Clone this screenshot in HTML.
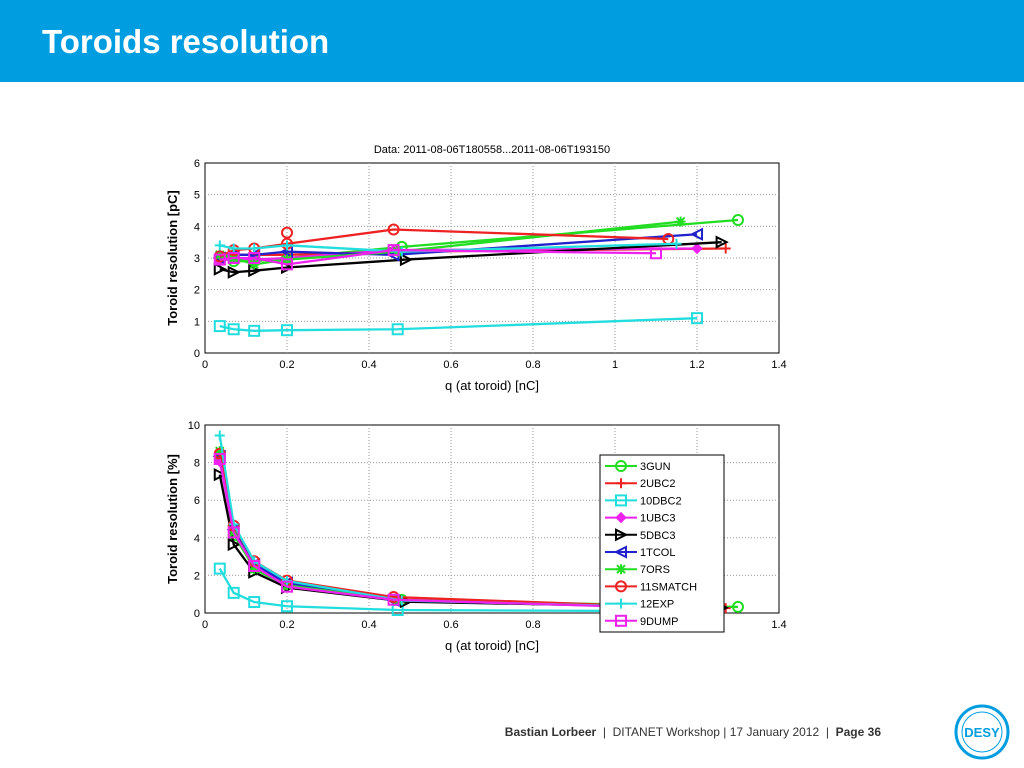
<!DOCTYPE html>
<html><head><meta charset="utf-8">
<style>
body{margin:0;width:1024px;height:768px;background:#fff;position:relative;overflow:hidden;font-family:"Liberation Sans",sans-serif}
#hdr{position:absolute;left:0;top:0;width:1024px;height:82px;background:#009ee0}
#ttl{position:absolute;left:42px;top:23px;color:#fff;font-weight:bold;font-size:33px}
#ft{position:absolute;right:143px;top:725px;font-size:12px;color:#333}
svg{position:absolute;left:0;top:0}
</style></head><body>
<div id="hdr"></div><div id="ttl">Toroids resolution</div>
<div id="ft"><b>Bastian Lorbeer</b> &nbsp;| &nbsp;DITANET Workshop | 17 January 2012 &nbsp;| &nbsp;<b>Page 36</b></div>
<svg id="s" width="1024" height="768" font-family="Liberation Sans, sans-serif"></svg>
<script>
const S=document.getElementById('s');let h='';
const X0=205,X1=779;const sx=q=>X0+q/1.4*(X1-X0);
function axes(top,bot,ymax,ystep,ylabel){
 const sy=v=>bot-v/ymax*(bot-top);
 h+=`<rect x="${X0}" y="${top}" width="${X1-X0}" height="${bot-top}" fill="#fff" stroke="#000" stroke-width="1"/>`;
 for(let i=0;i<=7;i++){const x=sx(i*0.2);if(i>0&&i<7)h+=`<line x1="${x}" y1="${top}" x2="${x}" y2="${bot}" stroke="#999" stroke-dasharray="1,2"/>`;
  h+=`<text x="${x}" y="${bot+15}" font-size="11" text-anchor="middle">${i==0?'0':i==5?'1':(i*0.2).toFixed(1)}</text>`;}
 for(let v=0;v<=ymax;v+=ystep){const y=sy(v);if(v>0&&v<ymax)h+=`<line x1="${X0}" y1="${y}" x2="${X1}" y2="${y}" stroke="#999" stroke-dasharray="1,2"/>`;
  h+=`<text x="${X0-5}" y="${y+4}" font-size="11" text-anchor="end">${v}</text>`;}
 h+=`<text x="${(X0+X1)/2}" y="${bot+37}" font-size="13" text-anchor="middle">q (at toroid) [nC]</text>`;
 h+=`<text transform="translate(${X0-28},${(top+bot)/2}) rotate(-90)" font-size="13" font-weight="bold" text-anchor="middle">${ylabel}</text>`;
 return sy;}
function mk(t,x,y,c){const r=5;
 if(t=='o')return `<circle cx="${x}" cy="${y}" r="${r}" fill="none" stroke="${c}" stroke-width="2"/>`;
 if(t=='s')return `<rect x="${x-r}" y="${y-r}" width="${2*r}" height="${2*r}" fill="none" stroke="${c}" stroke-width="2"/>`;
 if(t=='+')return `<path d="M${x-r} ${y}H${x+r}M${x} ${y-r}V${y+r}" stroke="${c}" stroke-width="2"/>`;
 if(t=='*')return `<path d="M${x-r} ${y}H${x+r}M${x} ${y-r}V${y+r}M${x-4} ${y-4}L${x+4} ${y+4}M${x-4} ${y+4}L${x+4} ${y-4}" stroke="${c}" stroke-width="2"/>`;
 if(t=='d')return `<path d="M${x} ${y-r}L${x+r} ${y}L${x} ${y+r}L${x-r} ${y}Z" fill="${c}" stroke="${c}"/>`;
 if(t=='>')return `<path d="M${x-r} ${y-r}L${x+r} ${y}L${x-r} ${y+r}Z" fill="none" stroke="${c}" stroke-width="2"/>`;
 if(t=='<')return `<path d="M${x+r} ${y-r}L${x-r} ${y}L${x+r} ${y+r}Z" fill="none" stroke="${c}" stroke-width="2"/>`;}
const ser=[
['3GUN','#22dd22','o',[[.036,3],[.07,2.9],[.12,2.9],[.2,3],[.48,3.35],[1.3,4.2]]],
['2UBC2','#ee2222','+',[[.036,3],[.07,3.1],[.12,3.1],[.2,3.1],[.47,3.2],[1.27,3.3]]],
['10DBC2','#22dddd','s',[[.036,.85],[.07,.75],[.12,.7],[.2,.72],[.47,.75],[1.2,1.1]]],
['1UBC3','#ee22ee','d',[[.036,2.9],[.07,3],[.12,2.95],[.2,3],[.46,3.25],[1.2,3.3]]],
['5DBC3','#000000','>',[[.036,2.65],[.07,2.55],[.12,2.6],[.2,2.7],[.49,2.95],[1.26,3.5]]],
['1TCOL','#2222cc','<',[[.036,3],[.07,3.1],[.12,3.1],[.2,3.2],[.46,3.1],[1.2,3.75]]],
['7ORS','#22dd22','*',[[.036,3.1],[.07,3],[.12,2.8],[.2,2.95],[.47,3.2],[1.16,4.15]]],
['11SMATCH','#ee2222','o',[[.036,3.05],[.07,3.25],[.12,3.3],[.2,3.45],[.46,3.9],[1.13,3.6]]],
['12EXP','#22dddd','+',[[.036,3.4],[.07,3.3],[.12,3.3],[.2,3.4],[.48,3.2],[1.15,3.45]]],
['9DUMP','#ee22ee','s',[[.036,2.95],[.07,3],[.12,3],[.2,2.8],[.46,3.25],[1.1,3.15]]]];
h+=`<text x="${(X0+X1)/2}" y="153" font-size="11" text-anchor="middle">Data: 2011-08-06T180558...2011-08-06T193150</text>`;
let sy=axes(163,353,6,1,'Toroid resolution [pC]');
for(const [n,c,m,d] of ser){h+=`<polyline points="${d.map(p=>sx(p[0])+','+sy(p[1])).join(' ')}" fill="none" stroke="${c}" stroke-width="2.3"/>`;d.forEach(p=>h+=mk(m,sx(p[0]),sy(p[1]),c));}
h+=`<circle cx="${sx(.2)}" cy="${sy(3.8)}" r="5" fill="none" stroke="#ee2222" stroke-width="2"/>`;
sy=axes(425,613,10,2,'Toroid resolution [%]');
for(const [n,c,m,d] of ser){const e=d.map(p=>[p[0],p[1]/p[0]/10]);h+=`<polyline points="${e.map(p=>sx(p[0])+','+sy(p[1])).join(' ')}" fill="none" stroke="${c}" stroke-width="2.3"/>`;e.forEach(p=>h+=mk(m,sx(p[0]),sy(p[1]),c));}
h+=`<rect x="600" y="455" width="124" height="177" fill="#fff" stroke="#000"/>`;
ser.forEach(([n,c,m],i)=>{const y=466+i*17.2;h+=`<line x1="605" y1="${y}" x2="637" y2="${y}" stroke="${c}" stroke-width="2"/>`+mk(m,621,y,c)+`<text x="640" y="${y+4}" font-size="11">${n}</text>`;});
h+=`<circle cx="982" cy="732" r="26" fill="#fff" stroke="#009ee0" stroke-width="3"/><circle cx="982" cy="732" r="20" fill="none" stroke="#009ee0" stroke-width="1"/><text x="982" y="737" font-size="13" font-weight="bold" fill="#009ee0" text-anchor="middle">DESY</text>`;
S.innerHTML=h;
</script>
</body></html>
